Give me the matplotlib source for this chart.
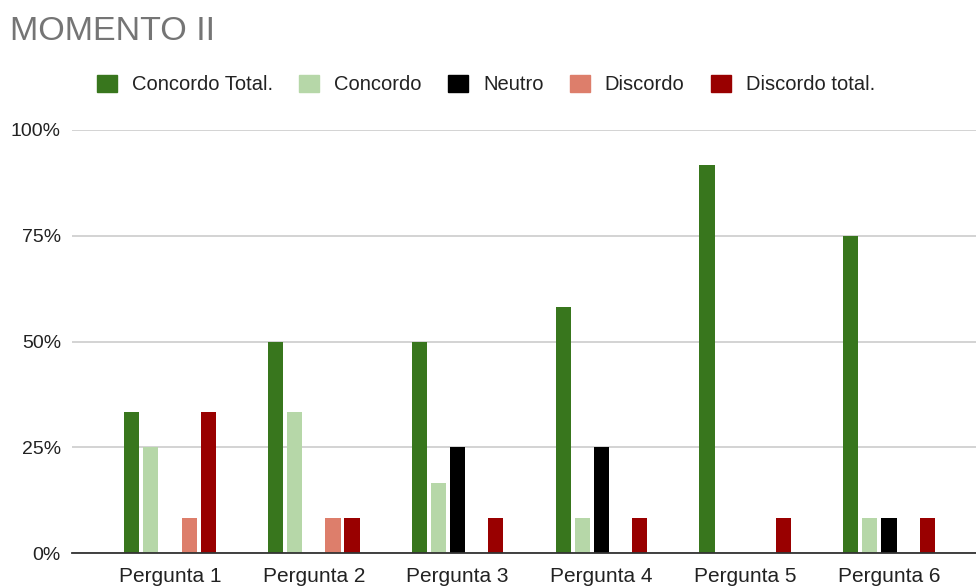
import numpy as np
import matplotlib.pyplot as plt
from matplotlib.patches import Patch

plt.rcParams['font.family'] = ['Liberation Sans', 'DejaVu Sans']

perguntas = ["Pergunta 1", "Pergunta 2", "Pergunta 3", "Pergunta 4", "Pergunta 5", "Pergunta 6"]
series = ["Concordo Total.", "Concordo", "Neutro", "Discordo", "Discordo total."]
cores = ["#38761d", "#b6d7a8", "#000000", "#dd7e6b", "#990000"]

# percentagens por resposta (12 respondentes)
concordo_total = [33.3, 50.0, 50.0, 58.3, 91.7, 75.0]
concordo = [25.0, 33.3, 16.7, 8.3, 0.0, 8.3]
neutro = [0.0, 0.0, 25.0, 25.0, 0.0, 8.3]
discordo = [8.3, 8.3, 0.0, 0.0, 0.0, 0.0]
discordo_total = [33.3, 8.3, 8.3, 8.3, 8.3, 8.3]
valores = [concordo_total, concordo, neutro, discordo, discordo_total]

fig = plt.figure(figsize=(9.76, 5.86), dpi=100)
ax = fig.add_axes([72 / 976, (586 - 553.3) / 586, (976 - 72) / 976, 423.3 / 586])

x = np.arange(len(perguntas))
passo = 0.133
largura = 0.106
for i, (vals, cor, nome) in enumerate(zip(valores, cores, series)):
    ax.bar(x + (i - 2) * passo, np.array(vals) / 100, width=largura, color=cor,
           label=nome, zorder=3, linewidth=0)

ax.set_xlim((72 - 170) / 143.8, (976 - 170) / 143.8)
ax.set_ylim(0, 1)
ax.set_yticks([0, 0.25, 0.5, 0.75, 1.0])
ax.set_yticklabels(["0%", "25%", "50%", "75%", "100%"])
ax.set_xticks(x)
ax.set_xticklabels(perguntas)
ax.tick_params(axis='both', length=0, colors="#222222")
ax.tick_params(axis='y', pad=8, labelsize=14)
ax.tick_params(axis='x', pad=10, labelsize=15)
ax.grid(axis='y', color="#cccccc", linewidth=1.2, zorder=0)
for lado in ["top", "right", "left"]:
    ax.spines[lado].set_visible(False)
ax.spines["bottom"].set_color("#333333")
ax.spines["bottom"].set_linewidth(1.3)
ax.spines["bottom"].set_zorder(4)

fig.text(10 / 976, 1 - 32 / 586, "MOMENTO II", fontsize=24.5, color="#757575",
         ha="left", va="center")

handles = [Patch(facecolor=c, edgecolor=c) for c in cores]
fig.legend(handles, series, loc="center left", bbox_to_anchor=(97 / 976, 1 - 84.5 / 586),
           ncol=5, frameon=False, fontsize=14.5, handlelength=0.99, handleheight=0.99,
           handletextpad=0.75, columnspacing=1.3, borderpad=0, borderaxespad=0,
           labelcolor="#222222")

fig.savefig("out.png", dpi=100)
